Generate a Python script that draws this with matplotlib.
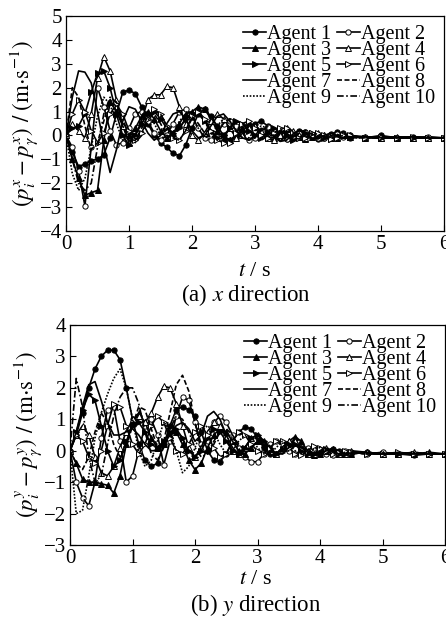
import numpy as np
import matplotlib
matplotlib.use("Agg")
import matplotlib.pyplot as plt

plt.rcParams['font.family'] = ['Liberation Serif', 'DejaVu Serif']
plt.rcParams['mathtext.fontset'] = 'stix'

# time samples (s)
t = [round(0.1 * k, 1) for k in range(46)] + [4.75, 5.0, 5.25, 5.5, 5.75, 6.0]

agents = ["Agent 1", "Agent 2", "Agent 3", "Agent 4", "Agent 5",
          "Agent 6", "Agent 7", "Agent 8", "Agent 9", "Agent 10"]

# ---- (a) x direction ----
x_a1 = [0, -0.7, -1.3, -1.2, -1.05, -1.0, -0.8, -0.1, 0.9, 1.8, 1.9, 1.75, 1.2, 0.5, 0.0, -0.3,
        -0.5, -0.75, -0.85, -0.4, 0.3, 0.9, 1.1, 0.8, 0.4, 0.0, -0.2, -0.1, 0.2, 0.4, 0.5,
        0.6, 0.4, 0.1, -0.1, -0.15, 0.0, 0.2, 0.15, 0.0, -0.15, -0.1, 0.05, 0.15, 0.1, 0.0,
        -0.1, 0.0, -0.1, -0.05, -0.1, -0.1]
x_a2 = [0, -0.5, -1.5, -2.95, -0.5, 2.0, 1.2, 0.2, -0.4, -0.3, 0.3, 0.9, 1.0, 0.6, 0.1, -0.2,
        0.0, 0.5, 1.0, 1.1, 0.8, 0.3, -0.1, -0.2, 0.1, 0.5, 0.6, 0.4, 0.0, -0.2, -0.1,
        0.2, 0.35, 0.2, -0.05, -0.15, -0.05, 0.1, 0.15, 0.0, -0.1, -0.1, 0.0, 0.05, -0.05, -0.1,
        -0.05, -0.1, -0.1, -0.1, -0.05, -0.1]
x_a3 = [0, -1.0, -1.8, -2.5, -2.4, -2.3, -0.2, 1.4, 1.0, 0.4, 0.0, 0.3, 0.8, 1.0, 0.7, 0.2,
        -0.1, 0.1, 0.5, 0.9, 1.0, 1.2, 1.1, 0.7, 0.2, -0.1, -0.2, 0.0, 0.3, 0.5, 0.4,
        0.1, -0.1, -0.1, 0.1, 0.25, 0.1, -0.05, -0.15, -0.05, 0.05, 0.0, -0.1, -0.1, 0.0, -0.05,
        -0.1, -0.1, -0.1, -0.1, -0.1, -0.1]
x_a4 = [0, 0.5, 0.2, -0.1, 0.9, 2.4, 3.3, 2.7, 1.5, 0.4, -0.3, 0.0, 0.6, 1.5, 1.7, 1.7,
        2.05, 2.0, 1.2, 0.5, 0.0, -0.2, 0.1, 0.6, 0.9, 0.7, 0.3, -0.1, 0.0, 0.3, 0.4,
        0.2, -0.1, -0.2, 0.0, 0.3, 0.2, 0.0, -0.1, 0.0, 0.1, 0.0, -0.1, -0.05, 0.05, 0.0,
        -0.05, -0.1, -0.05, -0.1, -0.1, -0.1]
x_a5 = [0, 0.3, 0.4, 0.9, 1.8, 2.6, 2.7, 2.0, 0.9, 0.0, -0.4, 0.0, 0.5, 0.9, 1.0, 0.7,
        0.3, 0.1, 0.3, 0.7, 0.9, 1.0, 0.6, 0.2, -0.1, 0.0, 0.3, 0.6, 0.5, 0.2, 0.0,
        -0.1, 0.1, 0.3, 0.2, 0.0, -0.2, -0.1, 0.1, 0.1, 0.0, -0.1, -0.15, -0.05, 0.0, -0.05,
        -0.1, -0.1, -0.1, -0.1, -0.1, -0.1]
x_a6 = [0, 0.9, 1.5, 1.0, 0.2, -0.3, 0.1, 0.9, 1.3, 0.9, 0.2, -0.2, 0.1, 0.7, 1.1, 0.9,
        0.4, -0.1, -0.2, 0.2, 0.8, 1.0, 0.7, 0.2, -0.2, -0.3, -0.3, 0.1, 0.5, 0.6, 0.3,
        0.0, -0.1, 0.1, 0.3, 0.3, 0.1, -0.1, -0.1, 0.1, 0.1, 0.0, -0.15, -0.1, 0.0, 0.0,
        -0.1, -0.05, -0.1, -0.05, -0.1, -0.1]
x_a7 = [0, 1.6, 2.7, 2.65, 2.2, 1.0, -0.4, -1.55, -0.6, 0.6, 1.2, 1.1, 0.6, 0.1, -0.2, 0.0,
        0.5, 0.9, 1.0, 0.7, 0.2, -0.1, 0.0, 0.4, 0.8, 0.9, 0.6, 0.2, -0.1, -0.2, 0.0,
        0.3, 0.2, -0.05, -0.25, -0.2, 0.05, 0.2, 0.1, -0.1, -0.15, 0.0, 0.1, 0.0, -0.1, -0.1,
        -0.05, -0.1, -0.1, -0.05, -0.1, -0.1]
x_a8 = [0, 2.0, 1.6, 0.4, -0.6, -0.3, 0.6, 1.5, 1.2, 0.4, -0.2, -0.2, 0.3, 0.8, 0.9, 0.5,
        0.0, -0.1, 0.3, 0.7, 0.8, 0.5, 0.1, -0.1, 0.1, 0.5, 0.7, 0.5, 0.1, -0.2, -0.1,
        0.2, 0.4, 0.3, 0.0, -0.15, -0.1, 0.1, 0.2, 0.05, -0.1, -0.1, 0.0, 0.05, -0.05, -0.1,
        -0.05, -0.1, -0.1, -0.1, -0.1, -0.1]
x_a9 = [0, -1.6, -2.3, -1.8, -0.5, 0.8, 1.6, 1.3, 0.5, -0.2, -0.3, 0.2, 0.7, 0.9, 0.5, 0.0,
        -0.2, 0.1, 0.6, 0.9, 0.7, 0.3, -0.1, 0.0, 0.4, 0.7, 0.6, 0.2, -0.1, -0.1, 0.2,
        0.4, 0.3, 0.0, -0.2, -0.1, 0.1, 0.2, 0.1, -0.1, -0.1, 0.0, 0.05, 0.0, -0.1, -0.1,
        -0.1, -0.05, -0.1, -0.1, -0.1, -0.1]
x_a10 = [0, -1.0, -2.0, -2.3, -2.0, -0.5, 0.9, 1.6, 1.4, 0.7, 0.0, -0.3, 0.0, 0.6, 1.0, 0.9,
         0.4, -0.1, -0.2, 0.2, 0.7, 0.9, 0.6, 0.1, -0.2, -0.1, 0.3, 0.6, 0.5, 0.2, -0.1,
         -0.2, 0.0, 0.25, 0.3, 0.1, -0.1, -0.15, 0.0, 0.1, 0.05, -0.05, -0.1, -0.05, 0.0, -0.05,
         -0.1, -0.1, -0.05, -0.1, -0.1, -0.1]

# ---- (b) y direction ----
y_a1 = [0, 0.5, 1.2, 2.0, 2.6, 3.0, 3.2, 3.2, 2.9, 2.0, 1.0, 0.2, -0.3, -0.5, -0.4, 0.2,
        0.8, 1.3, 1.4, 1.3, 1.1, 0.6, 0.0, -0.3, -0.35, -0.1, 0.3, 0.6, 0.75, 0.7, 0.4,
        0.1, -0.1, -0.1, 0.05, 0.2, 0.25, 0.1, -0.05, -0.15, -0.1, 0.0, 0.05, 0.0, -0.1, -0.1,
        -0.05, -0.1, -0.1, -0.1, -0.1, -0.1]
y_a2 = [0, -1.0, -1.5, -1.75, -1.0, 0.4, 1.3, 1.4, 0.3, -1.0, -0.8, 0.0, 0.8, 1.0, 0.5, -0.45,
        0.3, 1.1, 1.7, 1.6, 0.9, 0.2, 0.3, 0.9, 1.1, 0.9, 0.5, 0.1, -0.2, -0.35, -0.35,
        -0.1, 0.2, 0.3, 0.2, 0.0, -0.1, -0.05, 0.1, 0.1, 0.0, -0.1, -0.15, -0.05, 0.0, -0.05,
        -0.1, -0.05, -0.1, -0.15, -0.1, -0.1]
y_a3 = [0, -0.4, -0.9, -1.0, -1.0, -1.05, -1.1, -1.35, -0.8, 0.2, 0.9, 1.2, 0.9, 0.4, 0.1, 0.2,
        0.5, 0.6, 0.2, -0.3, -0.6, -0.4, 0.1, 0.5, 0.7, 0.6, 0.3, 0.0, -0.1, 0.1, 0.3,
        0.2, 0.0, -0.1, 0.1, 0.3, 0.45, 0.3, 0.0, -0.15, -0.1, 0.0, 0.05, -0.05, -0.1, -0.1,
        -0.05, -0.1, -0.1, -0.1, -0.05, -0.1]
y_a4 = [0, 0.5, 0.8, 0.5, -0.2, -0.7, -0.8, -0.5, 0.1, 0.6, 1.0, 1.1, 0.9, 1.2, 1.7, 2.05,
        2.0, 1.5, 0.8, 0.1, -0.2, 0.1, 0.6, 0.9, 0.8, 0.4, 0.0, -0.1, 0.1, 0.4, 0.5,
        0.3, 0.0, -0.1, 0.1, 0.3, 0.3, 0.1, -0.1, -0.1, 0.05, 0.1, 0.0, -0.1, -0.1, 0.0,
        -0.05, -0.1, -0.1, -0.05, -0.1, -0.1]
y_a5 = [0, 0.6, 1.3, 1.8, 1.6, 0.8, 0.0, -0.5, -0.3, 0.3, 0.8, 0.9, 0.6, 0.2, 0.1, 0.3,
        0.6, 0.7, 0.4, 0.0, -0.2, 0.0, 0.4, 0.7, 0.6, 0.3, 0.0, -0.1, 0.1, 0.4, 0.5,
        0.3, 0.0, -0.1, 0.05, 0.2, 0.2, 0.0, -0.1, -0.1, 0.0, 0.05, 0.0, -0.1, -0.1, -0.05,
        -0.1, -0.1, -0.1, -0.1, -0.1, -0.1]
y_a6 = [0, 0.5, 0.3, -0.2, -0.4, 0.0, 0.8, 1.5, 1.4, 0.8, 0.2, -0.1, 0.2, 0.8, 1.1, 0.9,
        0.4, 0.0, -0.1, 0.2, 0.6, 0.8, 0.5, 0.1, -0.2, -0.1, 0.3, 0.6, 0.5, 0.2, 0.0,
        -0.1, 0.1, 0.3, 0.3, 0.1, -0.1, -0.15, 0.0, 0.15, 0.1, 0.0, -0.1, -0.05, 0.0, -0.05,
        -0.1, -0.1, -0.05, -0.1, -0.1, -0.1]
y_a7 = [0, 0.6, 1.4, 2.1, 2.2, 1.6, 0.9, 0.5, 0.5, 0.6, 0.7, 0.5, 0.2, 0.0, 0.0, 0.2,
        0.5, 0.8, 0.9, 0.7, 0.3, 0.5, 1.1, 1.25, 1.0, 0.5, 0.1, -0.1, 0.1, 0.4, 0.5,
        0.3, 0.1, -0.1, -0.1, 0.1, 0.2, 0.1, -0.05, -0.15, -0.1, 0.0, 0.05, 0.0, -0.1, -0.1,
        -0.05, -0.1, -0.1, -0.1, -0.1, -0.1]
y_a8 = [0, -0.4, -0.6, -0.2, 0.6, 1.2, 0.9, 0.2, -0.2, 0.1, 0.8, 1.4, 1.3, 0.7, 0.1, 0.3,
        1.2, 2.1, 2.4, 1.9, 0.9, 0.0, -0.1, 0.2, 0.6, 0.7, 0.5, 0.2, 0.0, 0.1, 0.3,
        0.3, 0.1, -0.1, -0.1, 0.1, 0.2, 0.1, 0.0, -0.1, -0.1, 0.0, 0.0, -0.1, -0.1, -0.05,
        -0.1, -0.1, -0.05, -0.1, -0.1, -0.1]
y_a9 = [0, -2.0, -1.9, -0.8, 0.4, 1.2, 1.8, 2.3, 2.6, 2.0, 1.0, 0.0, -0.5, -0.3, 0.3, 0.9,
        0.6, 0.0, -0.7, -0.5, 0.1, 0.6, 0.8, 0.6, 0.2, -0.1, 0.0, 0.3, 0.5, 0.4, 0.1,
        -0.1, -0.1, 0.1, 0.3, 0.2, 0.0, -0.1, -0.1, 0.05, 0.1, 0.0, -0.1, -0.1, -0.05, -0.05,
        -0.1, -0.1, -0.1, -0.05, -0.1, -0.1]
y_a10 = [0, 2.3, 1.4, -0.2, -1.0, -0.8, 0.2, 1.1, 1.7, 2.0, 2.0, 1.5, 0.6, -0.1, -0.3, 0.1,
         0.7, 1.1, 1.0, 0.6, 0.1, -0.2, -0.1, 0.3, 0.6, 0.6, 0.3, 0.0, -0.1, 0.1, 0.3,
         0.35, 0.15, -0.05, -0.1, 0.0, 0.15, 0.15, 0.0, -0.1, -0.1, 0.0, 0.05, -0.05, -0.1, -0.05,
         -0.1, -0.1, -0.1, -0.1, -0.1, -0.1]

x_series = [x_a1, x_a2, x_a3, x_a4, x_a5, x_a6, x_a7, x_a8, x_a9, x_a10]
y_series = [y_a1, y_a2, y_a3, y_a4, y_a5, y_a6, y_a7, y_a8, y_a9, y_a10]

x_ticks = [0, 1, 2, 3, 4, 5, 6]
ya_ticks = [-4, -3, -2, -1, 0, 1, 2, 3, 4, 5]
yb_ticks = [-3, -2, -1, 0, 1, 2, 3, 4]

styles = [
    dict(ls='-', marker='o', mfc='black'),
    dict(ls='-', marker='o', mfc='white'),
    dict(ls='-', marker='^', mfc='black'),
    dict(ls='-', marker='^', mfc='white'),
    dict(ls='-', marker='>', mfc='black'),
    dict(ls='-', marker='>', mfc='white'),
    dict(ls='-', marker=None, mfc='black'),
    dict(ls=(0, (3, 1.5)), marker=None, mfc='black'),
    dict(ls=(0, (1, 1)), marker=None, mfc='black'),
    dict(ls=(0, (4, 1.5, 1, 1.5)), marker=None, mfc='black'),
]

W, H = 446, 620
fig = plt.figure(figsize=(W / 100, H / 100), dpi=100)
ax1 = fig.add_axes([66 / W, 1 - 231 / H, (444 - 66) / W, (231 - 16) / H])
ax2 = fig.add_axes([70 / W, 1 - 545 / H, (445 - 70) / W, (545 - 325) / H])


def draw(ax, series, yticks, ylim, ylabel):
    handles = []
    for name, vals, st in zip(agents, series, styles):
        h, = ax.plot(t, vals, color='black', lw=1.2, linestyle=st['ls'],
                     marker=st['marker'], markersize=3.8, markerfacecolor=st['mfc'],
                     markeredgecolor='black', markeredgewidth=0.7, label=name)
        handles.append(h)
    ax.set_xlim(0, 6)
    ax.set_ylim(*ylim)
    ax.set_xticks(x_ticks)
    ax.set_yticks(yticks)
    ax.set_yticklabels([str(v).replace('-', '\u2212') for v in yticks])
    ax.tick_params(direction='in', length=4, width=0.8, labelsize=15,
                   top=False, right=False, pad=3)
    for s in ax.spines.values():
        s.set_linewidth(0.9)
    ax.set_ylabel(ylabel, fontsize=16.5, labelpad=0)
    order = [0, 2, 4, 6, 8, 1, 3, 5, 7, 9]
    ax.legend([handles[i] for i in order], [agents[i] for i in order], ncol=2,
              loc='upper right', frameon=False, fontsize=14.5, labelspacing=-0.16,
              handlelength=1.15, handletextpad=0.05, columnspacing=0.25,
              borderaxespad=0.35, borderpad=0.1)


draw(ax1, x_series, ya_ticks, (-4, 5),
     r'$(p_i^{x}-p_{\gamma}^{x})\ /\ (\mathrm{m{\cdot}s^{-1}})$')
draw(ax2, y_series, yb_ticks, (-3, 4),
     r'$(p_i^{y}-p_{\gamma}^{y})\ /\ (\mathrm{m{\cdot}s^{-1}})$')

fig.text(255 / W, 1 - 272 / H, r'$t$ / s', ha='center', va='center', fontsize=16)
fig.text(256 / W, 1 - 580 / H, r'$t$ / s', ha='center', va='center', fontsize=16)
fig.text(246 / W, 1 - 295 / H, r'(a) $x$ direction', ha='center', va='center', fontsize=16.5)
fig.text(256 / W, 1 - 605 / H, r'(b) $y$ direction', ha='center', va='center', fontsize=16.5)

fig.savefig('out.png', dpi=100)
